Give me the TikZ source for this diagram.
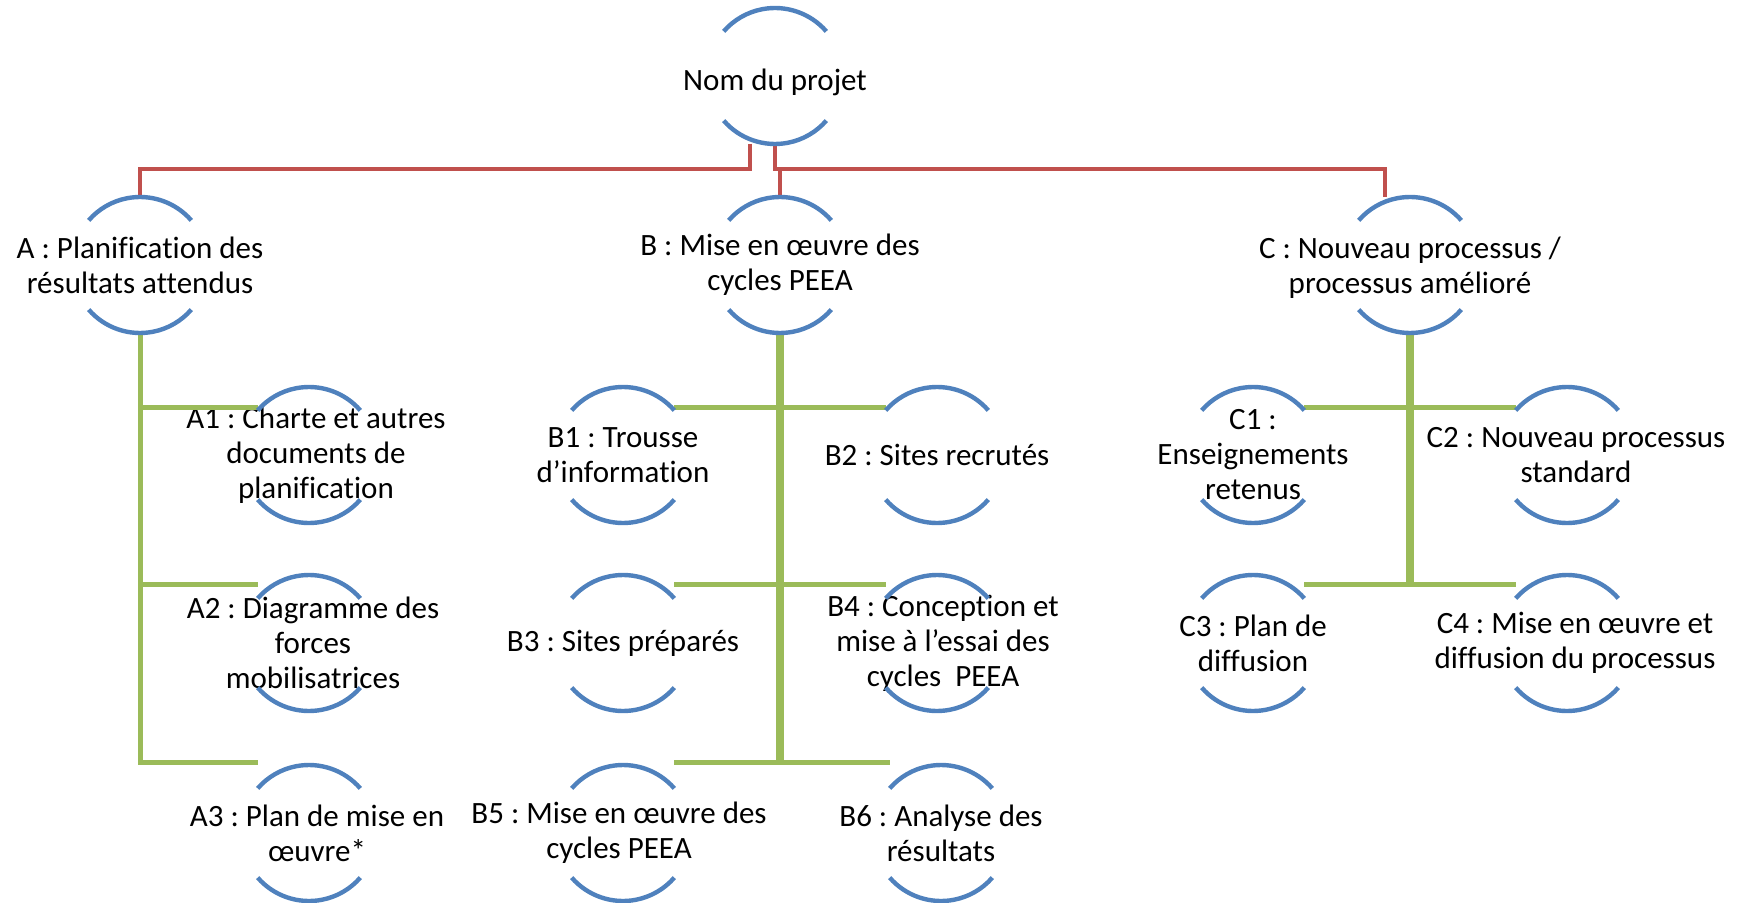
\documentclass[tikz,border=0pt]{standalone}
\usepackage{fontspec}
\setmainfont{Carlito}[Ligatures=CommonOff]
\usetikzlibrary{positioning}

\definecolor{arcblue}{HTML}{4F81BD}
\definecolor{linkred}{HTML}{C0504D}
\definecolor{linkgreen}{HTML}{9BBB59}

\begin{document}
\frenchspacing
\begin{tikzpicture}[x=0.5pt, y=0.5pt, node distance=26pt and 89pt,
        ring/.style={circle, minimum size=68pt, inner sep=0pt, outer sep=0pt},
        txt/.style={align=center, inner sep=0pt, font=\fontsize{15.5pt}{17.5pt}\selectfont},
        arcline/.style={draw=arcblue, line width=2.2pt},
        redline/.style={draw=linkred, line width=2pt},
        gthin/.style={draw=linkgreen, line width=2.5pt},
        gthick/.style={draw=linkgreen, line width=4.3pt}]
        \useasboundingbox (0,0) rectangle (1748,-903);

        \node (P) [ring, label={[txt, yshift=-3pt]center:{Nom du projet}}] at (775,-76) {};
        \node (A) [ring, label={[txt]center:{A : Planification des\\résultats attendus}}] at (140,-265) {};
        \node (B) [ring, label={[txt]center:{B : Mise en œuvre des\\cycles PEEA}}] at (780,-265) {};
        \node (C) [ring, label={[txt, yshift=-1.5pt]center:{C : Nouveau processus /\\processus amélioré}}] at (1410,-265) {};

        \node (A1) [ring, label={[txt, xshift=3.5pt]center:{A1 : Charte et autres\\documents de\\planification}}] at (309,-455) {};
        \node (A2) [ring, below=of A1, label={[txt, xshift=2pt]center:{A2 : Diagramme des\\forces\\mobilisatrices}}] {};
        \node (A3) [ring, below=27pt of A2, label={[txt, xshift=4pt]center:{A3 : Plan de mise en\\œuvre*}}] {};

        \node (B1) [ring, label={[txt]center:{B1 : Trousse\\d’information}}] at (623,-455) {};
        \node (B2) [ring, right=of B1, label={[txt]center:{B2 : Sites recrutés}}] {};
        \node (B3) [ring, below=of B1, label={[txt]center:{B3 : Sites préparés}}] {};
        \node (B4) [ring, right=of B3, label={[txt, xshift=3pt]center:{B4 : Conception et\\mise à l’essai des\\cycles\ \ PEEA}}] {};
        \node (B5) [ring, below=27pt of B3, label={[txt, xshift=-2pt]center:{B5 : Mise en œuvre des\\cycles PEEA}}] {};
        \node (B6) [ring, right=91pt of B5, label={[txt]center:{B6 : Analyse des\\résultats}}] {};

        \node (C1) [ring, label={[txt]center:{C1 :\\Enseignements\\retenus}}] at (1253,-455) {};
        \node (C2) [ring, right=of C1, label={[txt, xshift=4.5pt]center:{C2 : Nouveau processus\\standard}}] {};
        \node (C3) [ring, below=of C1, label={[txt]center:{C3 : Plan de\\diffusion}}] {};
        \node (C4) [ring, right=of C3, label={[txt, xshift=4pt]center:{C4 : Mise en œuvre et\\diffusion du processus}}] {};

        \coordinate (row1) at (0,-407);
        \coordinate (row2) at (0,-584);
        \coordinate (row3) at (0,-762);

        \draw[redline] ([xshift=-12.5pt]P.south) -- ++(0,-25) -| (A.north);
        \draw[redline] (P.south) -- ++(0,-25) -| ([xshift=-12.5pt]C.north);
        \draw[redline] (P.south) ++(0,-25) -| (B.north);

        \draw[gthin] (A.south) |- (A3.139 |- row3);
        \draw[gthin] (A.south |- row1) -- (A1.139 |- row1);
        \draw[gthin] (A.south |- row2) -- (A2.139 |- row2);

        \draw[gthick] (B.south) -- (B.south |- row3);
        \foreach \l/\r/\row in {B1/B2/row1, B3/B4/row2, B5/B6/row3}
            \draw[gthin] (\l.41 |- \row) -- (\r.139 |- \row);

        \draw[gthick] (C.south) -- (C.south |- row2);
        \foreach \l/\r/\row in {C1/C2/row1, C3/C4/row2}
            \draw[gthin] (\l.41 |- \row) -- (\r.139 |- \row);

        \foreach \n in {P,A,B,C,A1,A2,A3,B1,B2,B3,B4,B5,B6,C1,C2,C3,C4} {
            \draw[arcline] (\n.41) arc[start angle=41, end angle=139, radius=34pt];
            \draw[arcline] (\n.221) arc[start angle=221, end angle=319, radius=34pt];
        }
    \end{tikzpicture}
\end{document}
